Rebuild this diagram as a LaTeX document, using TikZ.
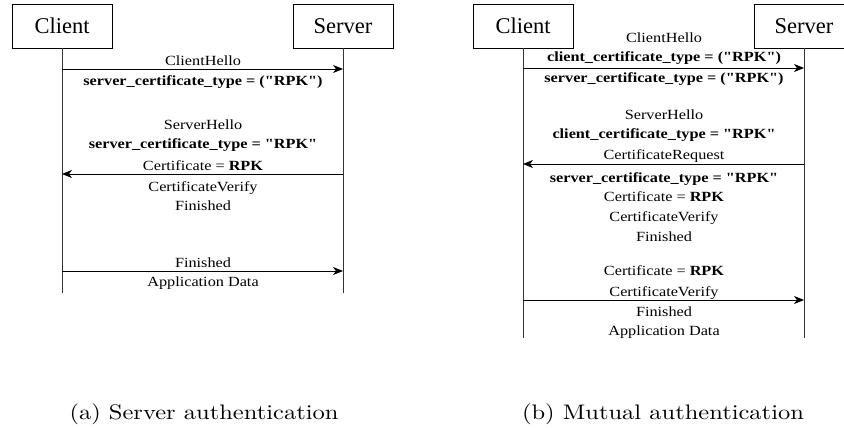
\documentclass[tikz,border=0pt]{standalone}
\usepackage{fontspec}
\newfontfamily\tnr{Liberation Serif}
\usetikzlibrary{arrows.meta}
\begin{document}
\begin{tikzpicture}[x=1pt,y=1pt,
  actor/.style={draw, line width=0.9pt, minimum width=100pt, minimum height=44pt, inner sep=0pt,
    font=\tnr\fontsize{22.5}{26}\selectfont},
  life/.style={line width=0.9pt, draw=black!80},
  msgarrow/.style={line width=0.9pt, -{Stealth[length=10pt,width=8pt,inset=3pt]}},
  msg/.style={font=\tnr\fontsize{14}{16}\selectfont, xscale=1.16, anchor=base, inner sep=0pt},
  capt/.style={font=\fontsize{10}{12}\selectfont, xscale=2.45, yscale=2.1, anchor=base, inner sep=0pt}]
\useasboundingbox (0,0) rectangle (844,-428);
\clip (0,0) rectangle (844,-428);
% ---------------- (a) ----------------
\node[actor] (ca) at (62,-26) {Client};
\node[actor] (sa) at (343,-26) {Server};
\coordinate (caend) at (62,-293);
\coordinate (saend) at (343,-293);
\draw[life] (ca.south) -- (caend);
\draw[life] (sa.south) -- (saend);
\coordinate (a1c) at (62,-69);  \coordinate (a1s) at (343,-69);
\coordinate (a2c) at (62,-174); \coordinate (a2s) at (343,-174);
\coordinate (a3c) at (62,-271); \coordinate (a3s) at (343,-271);
\draw[msgarrow] (a1c) -- (a1s);
\draw[msgarrow] (a2s) -- (a2c);
\draw[msgarrow] (a3c) -- (a3s);
\node[msg] (ta1) at (203,-66) {ClientHello};
\node[msg] (ta2) at (203,-86) {\bfseries server\_certificate\_type = ("RPK")};
\node[msg] (ta3) at (203,-129) {ServerHello};
\node[msg] (ta4) at (203,-148) {\bfseries server\_certificate\_type = "RPK"};
\node[msg] (ta5) at (203,-170) {Certificate = \textbf{RPK}};
\node[msg] (ta6) at (203,-191) {CertificateVerify};
\node[msg] (ta7) at (203,-210) {Finished};
\node[msg] (ta8) at (203,-267) {Finished};
\node[msg] (ta9) at (203,-286) {Application Data};
% ---------------- (b) ----------------
\node[actor] (cb) at (523,-26) {Client};
\node[actor] (sb) at (804,-26) {Server};
\coordinate (cbend) at (523,-338);
\coordinate (sbend) at (804,-338);
\draw[life] (cb.south) -- (cbend);
\draw[life] (sb.south) -- (sbend);
\coordinate (b1c) at (523,-68);  \coordinate (b1s) at (804,-68);
\coordinate (b2c) at (523,-164); \coordinate (b2s) at (804,-164);
\coordinate (b3c) at (523,-300); \coordinate (b3s) at (804,-300);
\draw[msgarrow] (b1c) -- (b1s);
\draw[msgarrow] (b2s) -- (b2c);
\draw[msgarrow] (b3c) -- (b3s);
\node[msg] (tb1) at (664,-43) {ClientHello};
\node[msg] (tb2) at (664,-62) {\bfseries client\_certificate\_type = ("RPK")};
\node[msg] (tb3) at (664,-82) {\bfseries server\_certificate\_type = ("RPK")};
\node[msg] (tb4) at (664,-120) {ServerHello};
\node[msg] (tb5) at (664,-139) {\bfseries client\_certificate\_type = "RPK"};
\node[msg] (tb6) at (664,-159) {CertificateRequest};
\node[msg] (tb7) at (664,-182) {\bfseries server\_certificate\_type = "RPK"};
\node[msg] (tb8) at (664,-201) {Certificate = \textbf{RPK}};
\node[msg] (tb9) at (664,-221) {CertificateVerify};
\node[msg] (tb10) at (664,-241) {Finished};
\node[msg] (tb11) at (664,-275) {Certificate = \textbf{RPK}};
\node[msg] (tb12) at (664,-296) {CertificateVerify};
\node[msg] (tb13) at (664,-316) {Finished};
\node[msg] (tb14) at (664,-335) {Application Data};
% captions
\node[capt] (capa) at (204,-419) {(a) Server authentication};
\node[capt] (capb) at (663,-419) {(b) Mutual authentication};
\end{tikzpicture}
\end{document}
